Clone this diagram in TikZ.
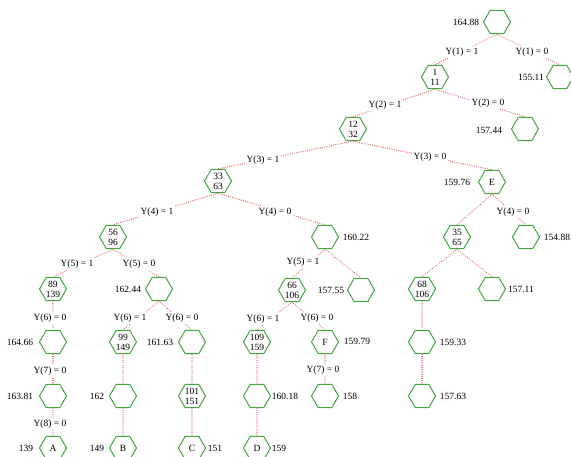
\documentclass[tikz,border=0pt]{standalone}
\usepackage{fontspec}
\setmainfont{Liberation Serif}
\usetikzlibrary{shapes.geometric}
\definecolor{hexgreen}{RGB}{60,170,60}
\definecolor{edgered}{RGB}{240,88,88}
\begin{document}
\begin{tikzpicture}[x=1pt,y=-1pt,
  hex/.style={draw=hexgreen, line width=1pt, regular polygon, regular polygon sides=6,
    minimum size=27pt, inner sep=0pt, align=center, font=\fontsize{9.5}{10}\selectfont},
  val/.style={inner sep=0pt, font=\fontsize{9.5}{11}\selectfont},
  cond/.style={fill=white, inner sep=1.2pt, font=\fontsize{9.5}{11}\selectfont},
  link/.style={draw=edgered, line width=1.25pt, line cap=round, dash pattern=on 0.01pt off 2.2pt}]
\useasboundingbox (0,0) rectangle (571,457);

% tree nodes
\node[hex] (root) at (497,22) {};
\node[hex] (n1) at (435,77) {1\\11};
\node[hex] (r1) at (560,77) {};
\node[hex] (n2) at (353,129) {12\\32};
\node[hex] (r2) at (525,129) {};
\node[hex] (n3) at (218,181) {33\\63};
\node[hex] (e) at (492,182) {E};
\node[hex] (n4) at (113,237) {56\\96};
\node[hex] (m4) at (325,237) {};
\node[hex] (n35) at (457,237) {35\\65};
\node[hex] (r4) at (526,237) {};
\node[hex] (n89) at (53,289) {89\\139};
\node[hex] (m5) at (159,289) {};
\node[hex] (n66) at (292,290) {66\\106};
\node[hex] (r5) at (361,290) {};
\node[hex] (n68) at (422,289) {68\\106};
\node[hex] (s5) at (492,289) {};
\node[hex] (a6) at (53,342) {};
\node[hex] (n99) at (123,342) {99\\149};
\node[hex] (c6) at (192,342) {};
\node[hex] (n109) at (257,342) {109\\159};
\node[hex] (f) at (325,342) {F};
\node[hex] (g6) at (422,342) {};
\node[hex] (a7) at (53,396) {};
\node[hex] (b7) at (123,396) {};
\node[hex] (n101) at (192,396) {101\\151};
\node[hex] (d7) at (257,396) {};
\node[hex] (f7) at (325,396) {};
\node[hex] (g7) at (422,396) {};
\node[hex] (a) at (53,448) {A};
\node[hex] (b) at (123,448) {B};
\node[hex] (c) at (192,448) {C};
\node[hex] (d) at (257,448) {D};

% values beside the nodes
\node[val] (v0) at (466,22) {164.88};
\node[val] (v1) at (531,77) {155.11};
\node[val] (v2) at (489,130) {157.44};
\node[val] (v3) at (457,182) {159.76};
\node[val] (v4) at (356,237) {160.22};
\node[val] (v5) at (557,237) {154.88};
\node[val] (v6) at (128,289) {162.44};
\node[val] (v7) at (331,290) {157.55};
\node[val] (v8) at (521,289) {157.11};
\node[val] (v9) at (20,342) {164.66};
\node[val] (v10) at (160,342) {161.63};
\node[val] (v11) at (357,341) {159.79};
\node[val] (v12) at (453,342) {159.33};
\node[val] (v13) at (20,396) {163.81};
\node[val] (v14) at (97,396) {162};
\node[val] (v15) at (285,396) {160.18};
\node[val] (v16) at (350,396) {158};
\node[val] (v17) at (453,396) {157.63};
\node[val] (v18) at (26,448) {139};
\node[val] (v19) at (97,448) {149};
\node[val] (v20) at (215,448) {151};
\node[val] (v21) at (279,448) {159};

% branches
\draw[link] (root.south) -- (n1.north);
\draw[link] (root.south) -- (r1.north);
\draw[link] (n1.south) -- (n2.north);
\draw[link] (n1.south) -- (r2.north);
\draw[link] (n2.south) -- (n3.north);
\draw[link] (n2.south) -- (e.north);
\draw[link] (n3.south) -- (n4.north);
\draw[link] (n3.south) -- (m4.north);
\draw[link] (e.south) -- (n35.north);
\draw[link] (e.south) -- (r4.north);
\draw[link] (n4.south) -- (n89.north);
\draw[link] (n4.south) -- (m5.north);
\draw[link] (m4.south) -- (n66.north);
\draw[link] (m4.south) -- (r5.north);
\draw[link] (n35.south) -- (n68.north);
\draw[link] (n35.south) -- (s5.north);
\draw[link] (n89.south) -- (a6.north);
\draw[link] (m5.south) -- (n99.north);
\draw[link] (m5.south) -- (c6.north);
\draw[link] (n66.south) -- (n109.north);
\draw[link] (n66.south) -- (f.north);
\draw[link] (n68.south) -- (g6.north);
\draw[link] (a6.south) -- (a7.north);
\draw[link] (n99.south) -- (b7.north);
\draw[link] (c6.south) -- (n101.north);
\draw[link] (n109.south) -- (d7.north);
\draw[link] (f.south) -- (f7.north);
\draw[link] (g6.south) -- (g7.north);
\draw[link] (a7.south) -- (a.north);
\draw[link] (b7.south) -- (b.north);
\draw[link] (n101.south) -- (c.north);
\draw[link] (d7.south) -- (d.north);

% branch conditions
\node[cond] (y1a) at (462,52) {Y(1) = 1};
\node[cond] (y1b) at (532,52) {Y(1) = 0};
\node[cond] (y2a) at (385,105) {Y(2) = 1};
\node[cond] (y2b) at (488,103) {Y(2) = 0};
\node[cond] (y3a) at (263,160) {Y(3) = 1};
\node[cond] (y3b) at (430,157) {Y(3) = 0};
\node[cond] (y4a) at (157,212) {Y(4) = 1};
\node[cond] (y4b) at (275,212) {Y(4) = 0};
\node[cond] (y4c) at (513,212) {Y(4) = 0};
\node[cond] (y5a) at (77,264) {Y(5) = 1};
\node[cond] (y5b) at (139,264) {Y(5) = 0};
\node[cond] (y5c) at (303,262) {Y(5) = 1};
\node[cond] (y6a) at (50,318) {Y(6) = 0};
\node[cond] (y6b) at (130,318) {Y(6) = 1};
\node[cond] (y6c) at (182,318) {Y(6) = 0};
\node[cond] (y6d) at (263,319) {Y(6) = 1};
\node[cond] (y6e) at (317,318) {Y(6) = 0};
\node[cond] (y7a) at (50,371) {Y(7) = 0};
\node[cond] (y7b) at (323,370) {Y(7) = 0};
\node[cond] (y8a) at (50,424) {Y(8) = 0};
\end{tikzpicture}
\end{document}
